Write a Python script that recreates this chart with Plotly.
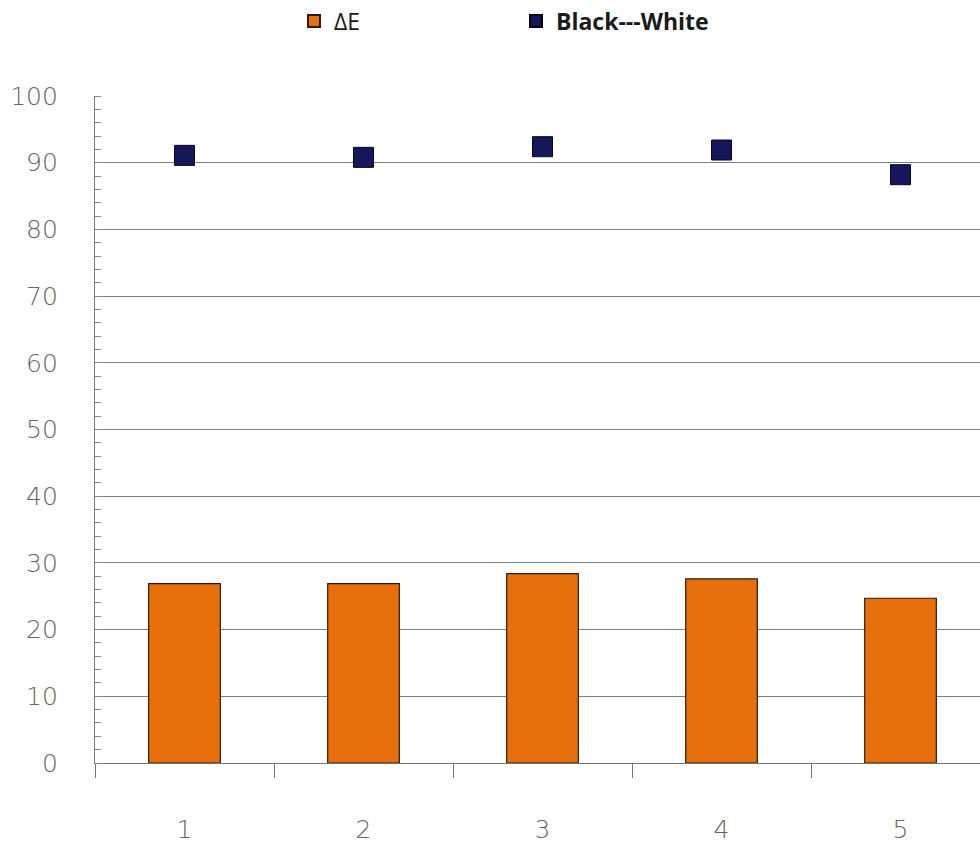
import plotly.graph_objects as go

categories = ["1", "2", "3", "4", "5"]
delta_e = [26.9, 26.9, 28.4, 27.6, 24.7]
black_white = [91.1, 90.8, 92.4, 91.9, 88.2]
y_ticks = [0, 10, 20, 30, 40, 50, 60, 70, 80, 90, 100]

fig = go.Figure()
fig.add_trace(go.Bar(
    x=categories, y=delta_e, name="ΔE", width=0.4,
    marker=dict(color="#E8700C", line=dict(color="#2a1a10", width=1.2)),
))
fig.add_trace(go.Scatter(
    x=categories, y=black_white, name="<b>Black---White</b>", mode="markers",
    marker=dict(symbol="square", size=20, color="#16165A",
                line=dict(color="#05051a", width=1)),
))

tick_font = dict(family="DejaVu Sans, sans-serif", size=25, color="#666666",
                 weight=200)

fig.update_layout(
    width=980, height=843,
    margin=dict(l=95, r=0, t=96, b=80),
    paper_bgcolor="white", plot_bgcolor="white",
    showlegend=True,
    legend=dict(
        orientation="h", xref="container", yref="container",
        x=294 / 980, xanchor="left", y=1 - 21 / 843, yanchor="middle",
        entrywidth=177, entrywidthmode="pixels",
        font=dict(family="Open Sans, sans-serif", size=23, color="#1a1a1a"),
        itemsizing="constant", bgcolor="rgba(0,0,0,0)",
    ),
    xaxis=dict(
        type="category", range=[-0.5, 4.444],
        tickson="boundaries", ticks="outside", ticklen=14, tickcolor="#777",
        tickwidth=1.2, showline=True, linecolor="#777", linewidth=1.2,
        showgrid=False, tickfont=tick_font, ticklabelstandoff=44,
        fixedrange=True,
    ),
    yaxis=dict(
        range=[0, 100], tickvals=y_ticks, showgrid=True, gridcolor="#7f7f7f",
        gridwidth=1.2, showline=True, linecolor="#777", linewidth=1.2,
        zeroline=False, ticks="", tickfont=tick_font, ticklabelstandoff=31,
        minor=dict(dtick=2, ticks="inside", ticklen=6, tickcolor="#888",
                   showgrid=False),
        fixedrange=True,
    ),
    bargap=0.6,
)

fig.write_html("out.html")
